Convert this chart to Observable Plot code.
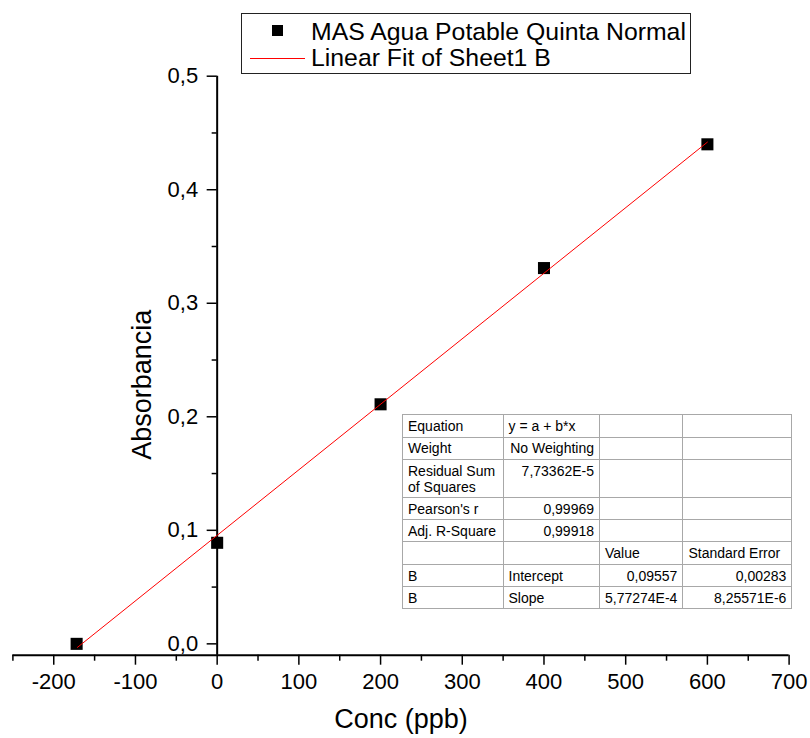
<!DOCTYPE html>
<html><head><meta charset="utf-8">
<script src="https://cdn.jsdelivr.net/npm/d3@7"></script>
<script src="https://cdn.jsdelivr.net/npm/@observablehq/plot@0.6"></script>
<style>
body{margin:0;background:#fff;font-family:"Liberation Sans",Arial,sans-serif;}
#wrap{position:relative;width:810px;height:738px;overflow:hidden;}
#legend{position:absolute;left:241px;top:13px;width:450px;height:61px;box-sizing:border-box;border:1px solid #222;background:#fff;}
#legend .txt{position:absolute;font-size:24.8px;line-height:25px;white-space:nowrap;color:#000;}
#legend .sq{position:absolute;width:11px;height:11px;background:#000;}
#legend .ln{position:absolute;height:1px;background:#ff0000;}
#tbl{position:absolute;left:402px;top:414px;border-collapse:collapse;font-size:14px;color:#000;background:#fff;border:1px solid #666;table-layout:fixed;}
#tbl td{border:1px solid #a8a8a8;padding:0 5px;white-space:nowrap;line-height:16px;vertical-align:middle;overflow:hidden;}
#tbl td.r{text-align:right;}
#tbl td.top{vertical-align:top;padding-top:3px;}
</style></head><body><div id="wrap"></div>
<script>
// ---- data ----
const concX = [-172, 0, 200, 400, 600];
const absY = [0.000, 0.089, 0.211, 0.331, 0.440];
const fitX = [-171, 600];
const fitY = [-0.0031, 0.4419];
const xMajor = [-200, -100, 0, 100, 200, 300, 400, 500, 600, 700];
const xMinor = [-250, -150, -50, 50, 150, 250, 350, 450, 550, 650];
const yMajor = [0, 0.1, 0.2, 0.3, 0.4, 0.5];
const yMinor = [0.05, 0.15, 0.25, 0.35, 0.45];
const xLabel = "Conc (ppb)";
const yLabel = "Absorbancia";
const legendLabels = ["MAS Agua Potable Quinta Normal", "Linear Fit of Sheet1 B"];
const tableCol1 = ["Equation", "Weight", "Residual Sum<br>of Squares", "Pearson's r", "Adj. R-Square", "", "B", "B"];
const tableCol2 = ["y = a + b*x", "No Weighting", "7,73362E-5", "0,99969", "0,99918", "", "Intercept", "Slope"];
const tableCol3 = ["", "", "", "", "", "Value", "0,09557", "5,77274E-4"];
const tableCol4 = ["", "", "", "", "", "Standard Error", "0,00283", "8,25571E-6"];

const pts = concX.map((x, i) => ({x, y: absY[i]}));
const fit = fitX.map((x, i) => ({x, y: fitY[i]}));

const W = 810, H = 738;
const mL = 12.4, mR = 21.4, mT = 75.7, mB = 83.3;
const xDomain = [-250, 700];
const yDomain = [-0.01, 0.5];
const xs = d3.scaleLinear(xDomain, [mL, W - mR]);
const yShift = xs(0) - mL;
const font = "'Liberation Sans', Arial, sans-serif";
const fmtY = d => d.toFixed(1).replace(".", ",");

const plot = Plot.plot({
  width: W, height: H,
  marginLeft: mL, marginRight: mR, marginTop: mT, marginBottom: mB,
  style: {fontFamily: font, color: "#000", background: "#fff"},
  x: {domain: xDomain},
  y: {domain: yDomain},
  marks: [
    Plot.ruleY([yDomain[0]], {stroke: "#000", strokeWidth: 2}),
    Plot.ruleX([0], {y1: yDomain[0], y2: yDomain[1], stroke: "#000", strokeWidth: 2}),
    Plot.axisX({anchor: "bottom", ticks: xMajor, tickSize: 10, tickPadding: 8, tickFormat: d => String(d), fontSize: 22, label: null, strokeWidth: 1.5}),
    Plot.axisX({anchor: "bottom", ticks: xMinor, tickSize: 6, tickFormat: () => "", label: null, strokeWidth: 1.5}),
    Plot.axisY({anchor: "left", ticks: yMajor, tickSize: 10, tickPadding: 9, dx: yShift, tickFormat: fmtY, fontSize: 22, label: null, strokeWidth: 1.5}),
    Plot.axisY({anchor: "left", ticks: yMinor, tickSize: 5, dx: yShift, tickFormat: () => "", label: null, strokeWidth: 1.5}),
    Plot.text([xLabel], {text: d => d, frameAnchor: "bottom", dy: 73, lineAnchor: "bottom", fontSize: 27}),
    Plot.text([yLabel], {text: d => d, frameAnchor: "left", textAnchor: "middle", rotate: -90, dx: 138, dy: 19, lineAnchor: "bottom", fontSize: 27}),
    Plot.dot(pts, {x: "x", y: "y", symbol: "square", r: 6.8, fill: "#000", stroke: null}),
    Plot.line(fit, {x: "x", y: "y", stroke: "#ff0000", strokeWidth: 1})
  ]
});

const wrap = document.getElementById("wrap");
wrap.appendChild(plot);

// legend
const lg = document.createElement("div");
lg.id = "legend";
lg.innerHTML =
  `<div class="sq" style="left:30px;top:11px"></div>` +
  `<div class="txt" style="left:69px;top:5px">${legendLabels[0]}</div>` +
  `<div class="ln" style="left:8px;width:55px;top:44px"></div>` +
  `<div class="txt" style="left:69px;top:31px">${legendLabels[1]}</div>`;
wrap.appendChild(lg);

// fit table
const colW = [100.5, 96.5, 76.5, 109];
const rowH = [22.5, 22.5, 38, 22, 22, 23, 22, 22];
const align2 = ["l", "r", "r", "r", "r", "l", "l", "l"];
const align34 = ["l", "l", "l", "l", "l", "l", "r", "r"];
const tb = document.createElement("table");
tb.id = "tbl";
let html = "<colgroup>" + colW.map(w => `<col style="width:${w}px">`).join("") + "</colgroup>";
tableCol1.forEach((c1, i) => {
  const top = i === 2 ? " top" : "";
  html += `<tr style="height:${rowH[i]}px">` +
    `<td class="${top}">${c1}</td>` +
    `<td class="${align2[i] === "r" ? "r" : ""}${top}">${tableCol2[i]}</td>` +
    `<td class="${align34[i] === "r" ? "r" : ""}${top}">${tableCol3[i]}</td>` +
    `<td class="${align34[i] === "r" ? "r" : ""}${top}">${tableCol4[i]}</td></tr>`;
});
tb.innerHTML = html;
wrap.appendChild(tb);
</script>
</body></html>
